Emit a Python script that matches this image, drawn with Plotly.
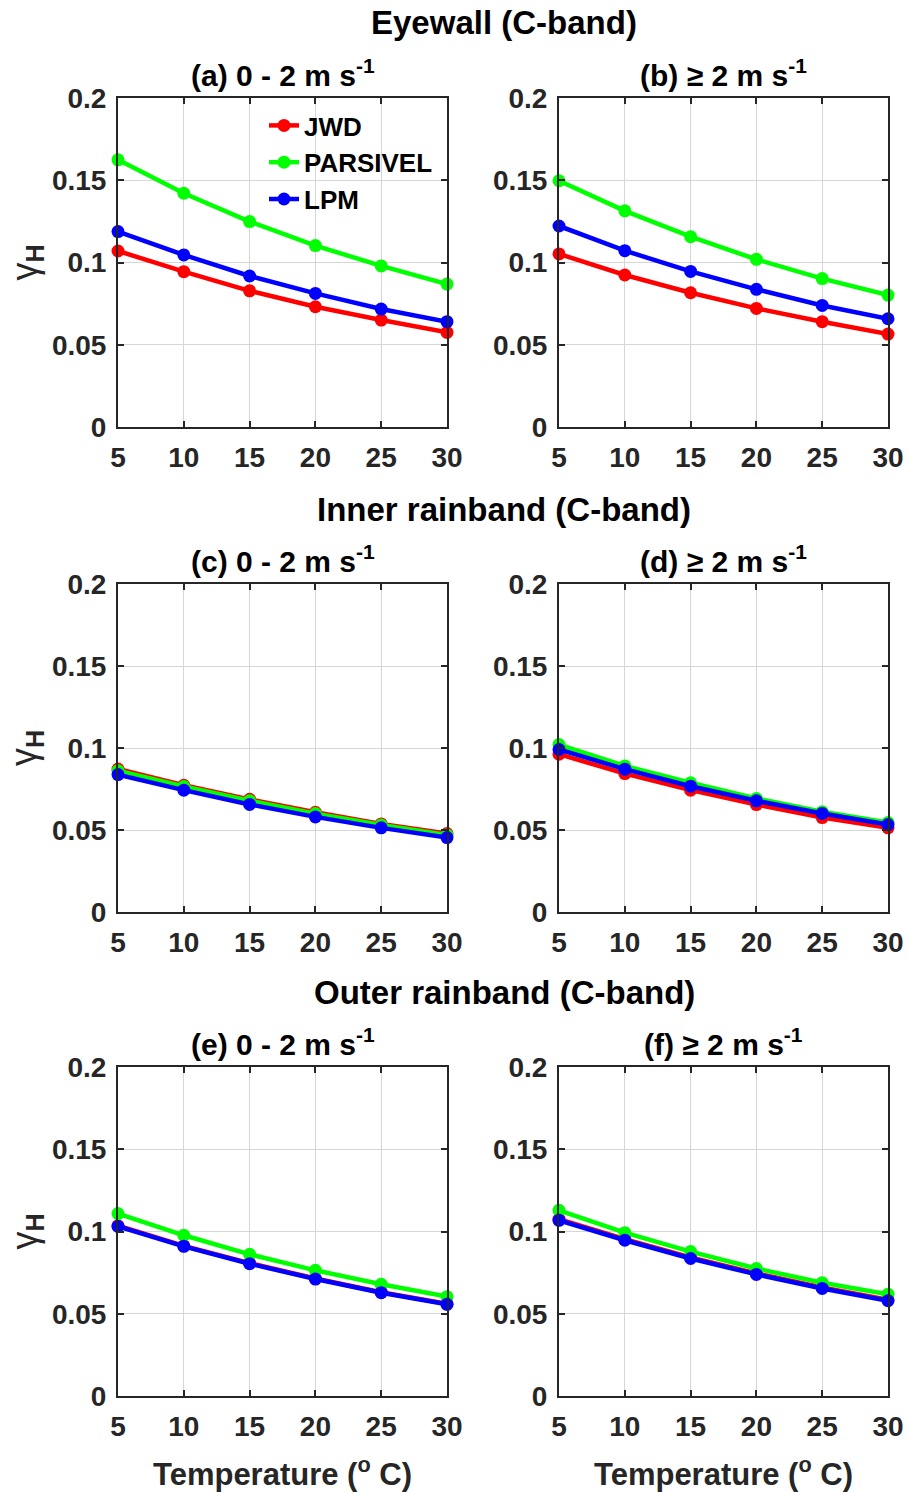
import plotly.graph_objects as go

temperature = [5, 10, 15, 20, 25, 30]
series_names = ["JWD", "PARSIVEL", "LPM"]
series_colors = ["#ff0000", "#00ff00", "#0000ff"]

# Eyewall
a_jwd = [0.1070, 0.0944, 0.0828, 0.0731, 0.0650, 0.0575]
a_parsivel = [0.1624, 0.1421, 0.1249, 0.1103, 0.0979, 0.0869]
a_lpm = [0.1188, 0.1046, 0.0918, 0.0812, 0.0717, 0.0640]
b_jwd = [0.1052, 0.0924, 0.0816, 0.0721, 0.0640, 0.0565]
b_parsivel = [0.1497, 0.1314, 0.1157, 0.1019, 0.0902, 0.0802]
b_lpm = [0.1222, 0.1072, 0.0946, 0.0837, 0.0739, 0.0658]
# Inner rainband
c_jwd = [0.0872, 0.0773, 0.0687, 0.0608, 0.0537, 0.0478]
c_parsivel = [0.0862, 0.0765, 0.0678, 0.0600, 0.0530, 0.0470]
c_lpm = [0.0838, 0.0743, 0.0656, 0.0580, 0.0513, 0.0454]
d_jwd = [0.0962, 0.0844, 0.0743, 0.0655, 0.0576, 0.0513]
d_parsivel = [0.1021, 0.0891, 0.0788, 0.0692, 0.0611, 0.0545]
d_lpm = [0.0991, 0.0871, 0.0767, 0.0678, 0.0601, 0.0533]
# Outer rainband
e_jwd = [0.1035, 0.0913, 0.0808, 0.0714, 0.0631, 0.0560]
e_parsivel = [0.1109, 0.0977, 0.0861, 0.0764, 0.0679, 0.0604]
e_lpm = [0.1031, 0.0910, 0.0804, 0.0711, 0.0628, 0.0557]
f_jwd = [0.1075, 0.0953, 0.0842, 0.0745, 0.0660, 0.0585]
f_parsivel = [0.1129, 0.0993, 0.0878, 0.0775, 0.0688, 0.0619]
f_lpm = [0.1068, 0.0947, 0.0836, 0.0739, 0.0654, 0.0579]

panels = [
    [a_jwd, a_parsivel, a_lpm],
    [b_jwd, b_parsivel, b_lpm],
    [c_jwd, c_parsivel, c_lpm],
    [d_jwd, d_parsivel, d_lpm],
    [e_jwd, e_parsivel, e_lpm],
    [f_jwd, f_parsivel, f_lpm],
]
panel_titles = [
    "(a) 0 - 2 m s<sup>-1</sup>", "(b) ≥ 2 m s<sup>-1</sup>",
    "(c) 0 - 2 m s<sup>-1</sup>", "(d) ≥ 2 m s<sup>-1</sup>",
    "(e) 0 - 2 m s<sup>-1</sup>", "(f) ≥ 2 m s<sup>-1</sup>",
]
section_titles = ["Eyewall (C-band)", "Inner rainband (C-band)", "Outer rainband (C-band)"]
y_ticks = [0, 0.05, 0.1, 0.15, 0.2]
y_ticklabels = ["0", "0.05", "0.1", "0.15", "0.2"]
x_ticks = [5, 10, 15, 20, 25, 30]

W, H = 908, 1492
col_px = [(118, 447), (559, 888)]
row_px = [(98, 427), (584, 912), (1067, 1396)]
section_y = [23, 509, 992]

FONT = "Liberation Sans, Arial, sans-serif"
TXT = "#262626"

fig = go.Figure()
annotations = []
layout_axes = {}
for i, data in enumerate(panels):
    r, c = divmod(i, 2)
    idx = i + 1
    xa = "x" if idx == 1 else f"x{idx}"
    ya = "y" if idx == 1 else f"y{idx}"
    for k, vals in enumerate(data):
        fig.add_trace(go.Scatter(
            x=temperature, y=vals, mode="lines+markers",
            name=series_names[k], showlegend=(i == 0),
            line=dict(color=series_colors[k], width=4.5),
            marker=dict(color=series_colors[k], size=13),
            xaxis=xa, yaxis=ya, cliponaxis=False,
        ))
    x0, x1 = col_px[c]
    y0, y1 = row_px[r]
    axcommon = dict(
        showline=True, linecolor=TXT, linewidth=2, mirror="ticks",
        ticks="inside", ticklen=6, tickwidth=2, tickcolor=TXT,
        showgrid=True, gridcolor="#d6d6d6", gridwidth=1, zeroline=False,
        automargin=False,
        tickfont=dict(family=FONT, size=28, color=TXT, weight="bold"),
    )
    layout_axes["xaxis" if idx == 1 else f"xaxis{idx}"] = dict(
        axcommon, domain=[x0 / W, x1 / W], range=[5, 30],
        tickvals=x_ticks, anchor=ya, ticklabelstandoff=4,
    )
    layout_axes["yaxis" if idx == 1 else f"yaxis{idx}"] = dict(
        axcommon, domain=[1 - y1 / H, 1 - y0 / H], range=[0, 0.2],
        tickvals=y_ticks, ticktext=y_ticklabels, anchor=xa, ticklabelstandoff=4,
    )
    annotations.append(dict(
        text=f"<b>{panel_titles[i]}</b>", x=(x0 + x1) / 2 / W, y=1 - (y0 - 4) / H,
        xref="paper", yref="paper", xanchor="center", yanchor="bottom",
        showarrow=False, font=dict(family=FONT, size=30, color="#000000"),
    ))
    if c == 0:
        annotations.append(dict(
            text="γ<sub><b>H</b></sub>", x=26 / W, y=1 - ((y0 + y1) / 2) / H,
            xref="paper", yref="paper", xanchor="center", yanchor="middle",
            textangle=-90, showarrow=False,
            font=dict(family=FONT, size=36, color=TXT),
        ))
    if r == 2:
        annotations.append(dict(
            text="<b>Temperature (<sup>o</sup> C)</b>", x=(x0 + x1) / 2 / W, y=1 - 1472 / H,
            xref="paper", yref="paper", xanchor="center", yanchor="middle",
            showarrow=False, font=dict(family=FONT, size=31, color=TXT),
        ))

for r, t in enumerate(section_titles):
    annotations.append(dict(
        text=f"<b>{t}</b>", x=504 / W, y=1 - section_y[r] / H,
        xref="paper", yref="paper", xanchor="center", yanchor="middle",
        showarrow=False, font=dict(family=FONT, size=33, color="#000000"),
    ))

fig.update_layout(
    width=W, height=H, margin=dict(l=0, r=0, t=0, b=0, autoexpand=False),
    paper_bgcolor="white", plot_bgcolor="white",
    annotations=annotations,
    legend=dict(
        x=264 / W, y=1 - 102 / H, xanchor="left", yanchor="top",
        bgcolor="rgba(0,0,0,0)", borderwidth=0, tracegroupgap=0,
        font=dict(family=FONT, size=26, color="#000000", weight="bold"),
        itemwidth=30,
    ),
    **layout_axes,
)
fig.write_html(
    "out.html",
    config={"displayModeBar": False},
    post_script="document.body.style.margin='0';document.body.style.overflow='hidden';",
)
